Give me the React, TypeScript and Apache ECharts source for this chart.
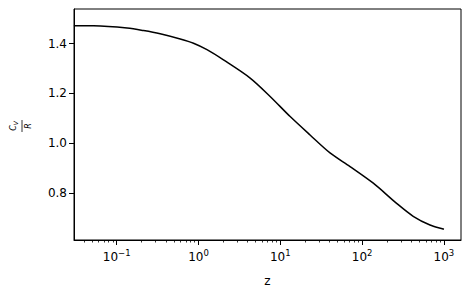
import React, { useEffect, useRef } from "react";
import * as echarts from "echarts";

const zValues = [0.03, 0.0522, 0.134, 0.213, 0.34, 0.598, 0.869, 1.27, 2.02, 4.28, 7.51, 13.2, 23.1, 40.5, 71.2, 137, 264, 421, 675, 1000];
const cvValues = [1.4725, 1.472, 1.463, 1.453, 1.44, 1.419, 1.402, 1.376, 1.335, 1.262, 1.188, 1.107, 1.033, 0.961, 0.906, 0.839, 0.758, 0.706, 0.671, 0.654];
const xMajorTicks = [0.1, 1, 10, 100, 1000];
const xMinorTicks: number[] = [];
[0.01, 0.1, 1, 10, 100, 1000].forEach((d) => {
  for (let k = 2; k <= 9; k++) xMinorTicks.push(+(d * k).toPrecision(3));
});
const yTicks = [0.8, 1.0, 1.2, 1.4];
const X_MIN = 0.0301;
const X_MAX = 1616;
const Y_MIN = 0.6106;
const Y_MAX = 1.5397;

const FONT = "DejaVu Sans";

export default function App() {
  const ref = useRef<HTMLDivElement>(null);
  useEffect(() => {
    const chart = echarts.init(ref.current!, null, { renderer: "svg" });
    const supFmt = (v: number) => {
      const e = Math.round(Math.log10(v));
      return `{b|10}{s|${e < 0 ? "\u2212" + -e : e}}`;
    };
    chart.setOption({
      animation: false,
      backgroundColor: "#fff",
      grid: {
        left: 74,
        right: 10,
        top: 9,
        bottom: 58,
        show: true,
        borderColor: "#000",
        borderWidth: 1,
        backgroundColor: "transparent",
      },
      xAxis: [
        {
          type: "log",
          logBase: 10,
          min: X_MIN,
          max: X_MAX,
          name: "z",
          nameLocation: "middle",
          nameGap: 35,
          nameTextStyle: { fontFamily: FONT, fontSize: 12, color: "#000" },
          axisLine: { show: true, lineStyle: { color: "#000", width: 1 } },
          axisTick: { show: true, length: 5, lineStyle: { color: "#000" }, customValues: xMajorTicks },
          axisLabel: {
            customValues: xMajorTicks,
            formatter: supFmt,
            margin: 8,
            rich: {
              b: { fontFamily: FONT, fontSize: 12, color: "#000" },
              s: { fontFamily: FONT, fontSize: 8.5, color: "#000", padding: [0, 0, 8, 0] },
            },
          },
          splitLine: { show: false },
        },
        {
          type: "log",
          logBase: 10,
          min: X_MIN,
          max: X_MAX,
          position: "bottom",
          axisLine: { show: false },
          axisTick: { show: true, length: 2.5, lineStyle: { color: "#000", width: 0.8 }, customValues: xMinorTicks },
          axisLabel: { show: false },
          splitLine: { show: false },
        },
      ],
      yAxis: {
        type: "value",
        min: Y_MIN,
        max: Y_MAX,
        axisLine: { show: true, lineStyle: { color: "#000", width: 1 } },
        axisTick: { show: true, length: 5, lineStyle: { color: "#000" }, customValues: yTicks },
        axisLabel: {
          customValues: yTicks,
          formatter: (v: number) => v.toFixed(1),
          fontFamily: FONT,
          fontSize: 12,
          color: "#000",
          margin: 7,
        },
        splitLine: { show: false },
      },
      series: [
        {
          type: "line",
          xAxisIndex: 0,
          data: zValues.map((z, i) => [z, cvValues[i]]),
          showSymbol: false,
          smooth: 0.3,
          lineStyle: { color: "#000", width: 1.5 },
        },
      ],
      graphic: [
        {
          type: "group",
          x: 22,
          y: 126,
          rotation: Math.PI / 2,
          children: [
            {
              type: "text",
              x: 0,
              y: -4,
              style: {
                text: "{c|C}{v|V}",
                align: "center",
                verticalAlign: "bottom",
                rich: {
                  c: { fontFamily: FONT, fontStyle: "italic", fontSize: 8, fill: "#000" },
                  v: { fontFamily: FONT, fontStyle: "italic", fontSize: 6, fill: "#000", padding: [3, 0, 0, 0] },
                },
              },
            },
            { type: "line", shape: { x1: -6, y1: 0, x2: 6, y2: 0 }, style: { stroke: "#000", lineWidth: 0.8 } },
            {
              type: "text",
              x: 0,
              y: 2,
              style: {
                text: "R",
                align: "center",
                verticalAlign: "top",
                fontFamily: FONT,
                fontStyle: "italic",
                fontSize: 8,
                fill: "#000",
              },
            },
          ],
        },
      ],
    });
    return () => chart.dispose();
  }, []);
  return <div ref={ref} style={{ position: "fixed", left: 0, top: 0, width: 471, height: 298 }} />;
}
